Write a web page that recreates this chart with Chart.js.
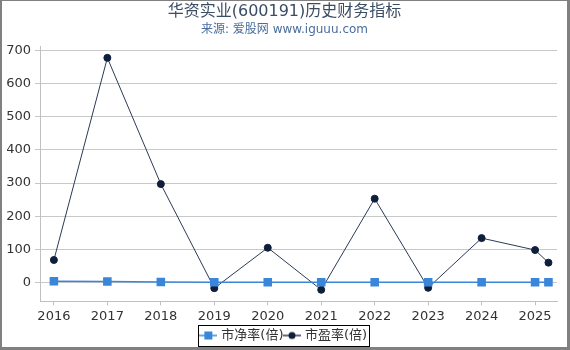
<!DOCTYPE html>
<html>
<head>
<meta charset="utf-8">
<script src="https://cdn.jsdelivr.net/npm/chart.js@4"></script>
<style>
  html, body { margin: 0; padding: 0; background: #fff; }
  #wrap {
    width: 565px; height: 346px;
    border-top: 1px solid #808080; border-left: 2px solid #808080;
    border-right: 3px solid #808080; border-bottom: 3px solid #808080;
  }
</style>
</head>
<body>
<div id="wrap"><canvas id="chart" width="565" height="346"></canvas></div>
<script>
// 数据
const years = [2016, 2017, 2018, 2019, 2020, 2021, 2022, 2023, 2024, 2025, 2025.25];
const pbValues = [4, 3, 1.5, 1, 1, 1, 1, 1, 1, 1, 1];          // 市净率(倍)
const peValues = [68, 678, 297, -17, 105, -22, 253, -16, 134, 98, 60]; // 市盈率(倍)
const xTicks = [2016, 2017, 2018, 2019, 2020, 2021, 2022, 2023, 2024, 2025];
const yTicks = [0, 100, 200, 300, 400, 500, 600, 700];

const FONT = '"DejaVu Sans", "Noto Sans CJK SC", sans-serif';
const PB_COLOR = '#3a86d8';
const PE_COLOR = '#0f1f3a';
const PE_LINE = '#2b3a55';

// 图例小图标：线 + 标记
function legendIcon(color, lineColor, shape) {
    const c = document.createElement('canvas');
    c.width = 18; c.height = 10;
    const g = c.getContext('2d');
    g.strokeStyle = lineColor;
    g.lineWidth = 1.5;
    g.beginPath(); g.moveTo(0, 5); g.lineTo(18, 5); g.stroke();
    g.fillStyle = color;
    if (shape === 'rect') {
        g.fillRect(5, 1, 8, 8);
    } else {
        g.beginPath(); g.arc(9, 5, 3.5, 0, Math.PI * 2); g.fill();
    }
    return c;
}

// 图例边框
const legendBorder = {
    id: 'legendBorder',
    afterDraw(chart) {
        const boxes = chart.legend.legendHitBoxes;
        if (!boxes || !boxes.length) return;
        let l = Infinity, r = -Infinity, t = Infinity, b = -Infinity;
        boxes.forEach(h => {
            l = Math.min(l, h.left); r = Math.max(r, h.left + h.width);
            t = Math.min(t, h.top); b = Math.max(b, h.top + h.height);
        });
        const ctx = chart.ctx;
        ctx.save();
        ctx.strokeStyle = '#000';
        ctx.lineWidth = 1;
        ctx.strokeRect(Math.round(l - 4) + 0.5, Math.round(t - 4) + 0.5, Math.round(r - l + 6), Math.round(b - t + 8));
        ctx.restore();
    }
};

const ctx = document.getElementById('chart').getContext('2d');

new Chart(ctx, {
    type: 'line',
    data: {
        datasets: [
            {
                label: '市净率(倍)',
                data: years.map((x, i) => ({ x: x, y: pbValues[i] })),
                borderColor: PB_COLOR,
                backgroundColor: PB_COLOR,
                borderWidth: 1.5,
                pointStyle: 'rect',
                pointRadius: 5,
                tension: 0
            },
            {
                label: '市盈率(倍)',
                data: years.map((x, i) => ({ x: x, y: peValues[i] })),
                borderColor: PE_LINE,
                backgroundColor: PE_COLOR,
                pointBorderColor: PE_COLOR,
                borderWidth: 1,
                pointStyle: 'circle',
                pointRadius: 3.5,
                tension: 0
            }
        ]
    },
    options: {
        responsive: false,
        animation: false,
        layout: { padding: { left: 5, right: 5, top: 0, bottom: -5 } },
        scales: {
            x: {
                type: 'linear',
                min: 2015.74,
                max: 2025.41,
                afterBuildTicks: s => { s.ticks = xTicks.map(v => ({ value: v })); },
                grid: { drawOnChartArea: false, drawTicks: true, tickLength: 4, color: '#c0c0c0' },
                border: { color: '#c0c0c0' },
                ticks: { color: '#333', font: { family: FONT, size: 13 }, padding: 3, callback: v => String(v) }
            },
            y: {
                min: -57,
                max: 712,
                afterBuildTicks: s => { s.ticks = yTicks.map(v => ({ value: v })); },
                afterFit: s => { s.width = 33; },
                grid: { color: '#c8c8c8', tickLength: 5 },
                border: { color: '#c0c0c0' },
                ticks: { color: '#333', font: { family: FONT, size: 13 }, padding: 4 }
            },
            // 右侧留白用的空轴
            yR: {
                position: 'right',
                afterFit: s => { s.width = 5; },
                grid: { drawOnChartArea: false, drawTicks: false },
                border: { display: false },
                ticks: { display: false }
            }
        },
        plugins: {
            title: {
                display: true,
                text: '华资实业(600191)历史财务指标',
                color: '#3b4d63',
                font: { family: FONT, size: 16, weight: 'normal' },
                padding: { top: 1, bottom: 0 }
            },
            subtitle: {
                display: true,
                text: '来源: 爱股网 www.iguuu.com',
                color: '#4a6d9c',
                font: { family: FONT, size: 12 },
                padding: { top: 1, bottom: 10 }
            },
            legend: {
                position: 'bottom',
                labels: {
                    color: '#333',
                    font: { family: FONT, size: 13 },
                    usePointStyle: true,
                    boxWidth: 18,
                    boxHeight: 10,
                    padding: 2,
                    generateLabels: chart => [
                        { text: '市净率(倍)', pointStyle: legendIcon(PB_COLOR, PB_COLOR, 'rect'), datasetIndex: 0, fontColor: '#333', lineWidth: 0 },
                        { text: '市盈率(倍)', pointStyle: legendIcon(PE_COLOR, PE_LINE, 'circle'), datasetIndex: 1, fontColor: '#333', lineWidth: 0 }
                    ]
                }
            },
            tooltip: { enabled: false }
        }
    },
    plugins: [legendBorder]
});
</script>
</body>
</html>
